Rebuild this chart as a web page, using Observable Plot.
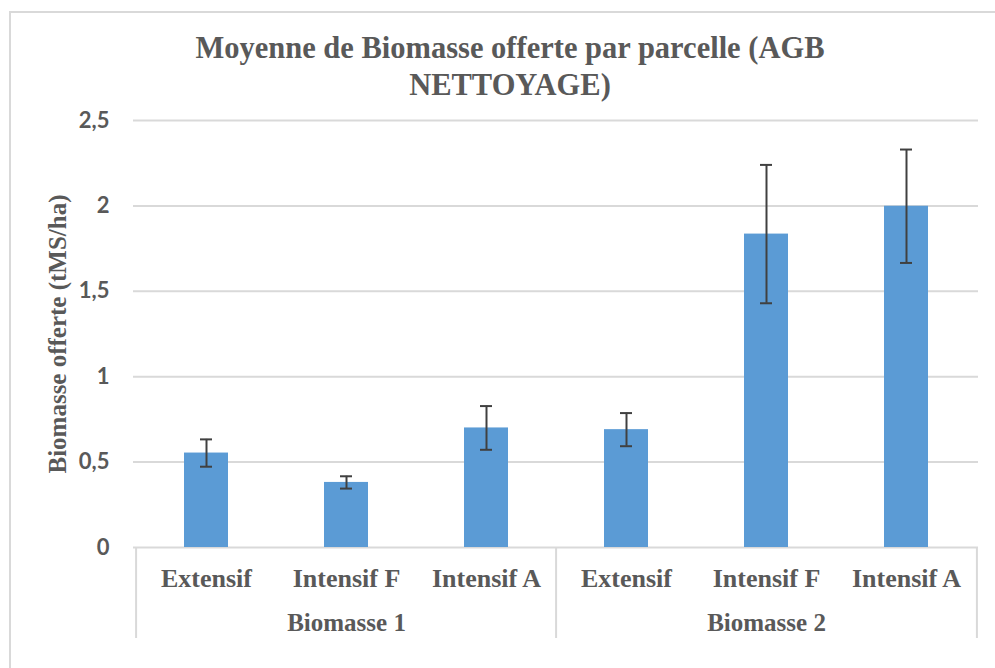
<!DOCTYPE html>
<html>
<head>
<meta charset="utf-8">
<script src="https://cdn.jsdelivr.net/npm/d3@7"></script>
<script src="https://cdn.jsdelivr.net/npm/@observablehq/plot@0.6"></script>
<style>
  html, body { margin: 0; padding: 0; background: #fff; }
  #wrap { position: relative; width: 995px; height: 668px; overflow: hidden; }
  #border { position: absolute; left: 9px; top: 11px; width: 1000px; height: 700px; border: 2px solid #d9d9d9; box-sizing: border-box; }
  #title { position: absolute; left: 20px; top: 0; width: 980px; padding-top: 30px; text-align: center;
           font-family: "Liberation Serif", "Times New Roman", serif; font-weight: bold; font-size: 30.5px;
           line-height: 37px; color: #595959; }
  #chart { position: absolute; left: 0; top: 100px; }
</style>
</head>
<body>
<div id="wrap">
  <div id="border"></div>
  <div id="title">Moyenne de Biomasse offerte par parcelle (AGB<br>NETTOYAGE)</div>
  <div id="chart"></div>
</div>
<script>
// Data
const groups = ["Biomasse 1", "Biomasse 2"];
const treatments = ["Extensif", "Intensif F", "Intensif A"];
const means = [0.553, 0.381, 0.700, 0.690, 1.835, 1.998];
const errors = [0.080, 0.036, 0.128, 0.097, 0.405, 0.332];
const yTicks = [0, 0.5, 1, 1.5, 2, 2.5];
const yLabel = "Biomasse offerte (tMS/ha)";

const rows = [];
groups.forEach((g, gi) => treatments.forEach((t, ti) => {
  const i = gi * treatments.length + ti;
  rows.push({key: g + "|" + t, group: g, treatment: t, mean: means[i], err: errors[i]});
}));
const keys = rows.map(d => d.key);
const groupCenters = groups.map(g => ({group: g, key: g + "|" + treatments[1]}));
const leftEdges = groups.map(g => g + "|" + treatments[0]);
const rightEdges = [keys[keys.length - 1]];

const W = 995, H = 568;
const mL = 133, mR = 17, mT = 20, mB = 121;
const step = (W - mL - mR) / keys.length;
const plotH = H - mT - mB;
const gap = 2.19;
const pInner = gap / (1 + gap);

const serif = "'Liberation Serif', 'Times New Roman', serif";
const sans = "Lato, 'Open Sans', 'Liberation Sans', sans-serif";
const grey = "#595959";

const fmt = d => String(d).replace(".", ",");

const chart = Plot.plot({
  width: W, height: H,
  marginLeft: mL, marginRight: mR, marginTop: mT, marginBottom: mB,
  style: {background: "transparent", overflow: "visible"},
  x: {domain: keys, paddingInner: pInner, paddingOuter: pInner / 2},
  y: {domain: [0, 2.5]},
  marks: [
    Plot.gridY(yTicks, {stroke: "#d9d9d9", strokeOpacity: 1, strokeWidth: 2}),
    Plot.barY(rows, {x: "key", y: "mean", fill: "#5b9bd5"}),
    Plot.ruleX(rows, {x: "key", y1: d => d.mean - d.err, y2: d => d.mean + d.err, stroke: "#404040", strokeWidth: 2}),
    Plot.tickY(rows, {x: "key", y: d => d.mean + d.err, stroke: "#404040", strokeWidth: 2, insetLeft: 16, insetRight: 16}),
    Plot.tickY(rows, {x: "key", y: d => d.mean - d.err, stroke: "#404040", strokeWidth: 2, insetLeft: 16, insetRight: 16}),
    Plot.ruleX(leftEdges, {x: d => d, dx: -step / 2, stroke: "#d9d9d9", strokeWidth: 2, insetTop: plotH, insetBottom: -91}),
    Plot.ruleX(rightEdges, {x: d => d, dx: step / 2, stroke: "#d9d9d9", strokeWidth: 2, insetTop: plotH, insetBottom: -91}),
    Plot.axisY(yTicks, {tickSize: 0, tickPadding: 24, tickFormat: fmt, label: null,
      fontFamily: sans, fontWeight: "bold", fontSize: 22, fill: grey}),
    Plot.axisY({ticks: [], tickSize: 0, label: yLabel, labelAnchor: "center", labelArrow: "none", labelOffset: 85,
      fontFamily: serif, fontWeight: "bold", fontSize: 25, fill: grey}),
    Plot.axisX({tickSize: 0, tickPadding: 21, tickFormat: k => k.split("|")[1], label: null,
      fontFamily: serif, fontWeight: "bold", fontSize: 26, fill: grey}),
    Plot.text(groupCenters, {x: "key", text: "group", frameAnchor: "bottom", lineAnchor: "middle", dy: 75,
      fontFamily: serif, fontWeight: "bold", fontSize: 25, fill: grey})
  ]
});
document.getElementById("chart").appendChild(chart);
</script>
</body>
</html>
